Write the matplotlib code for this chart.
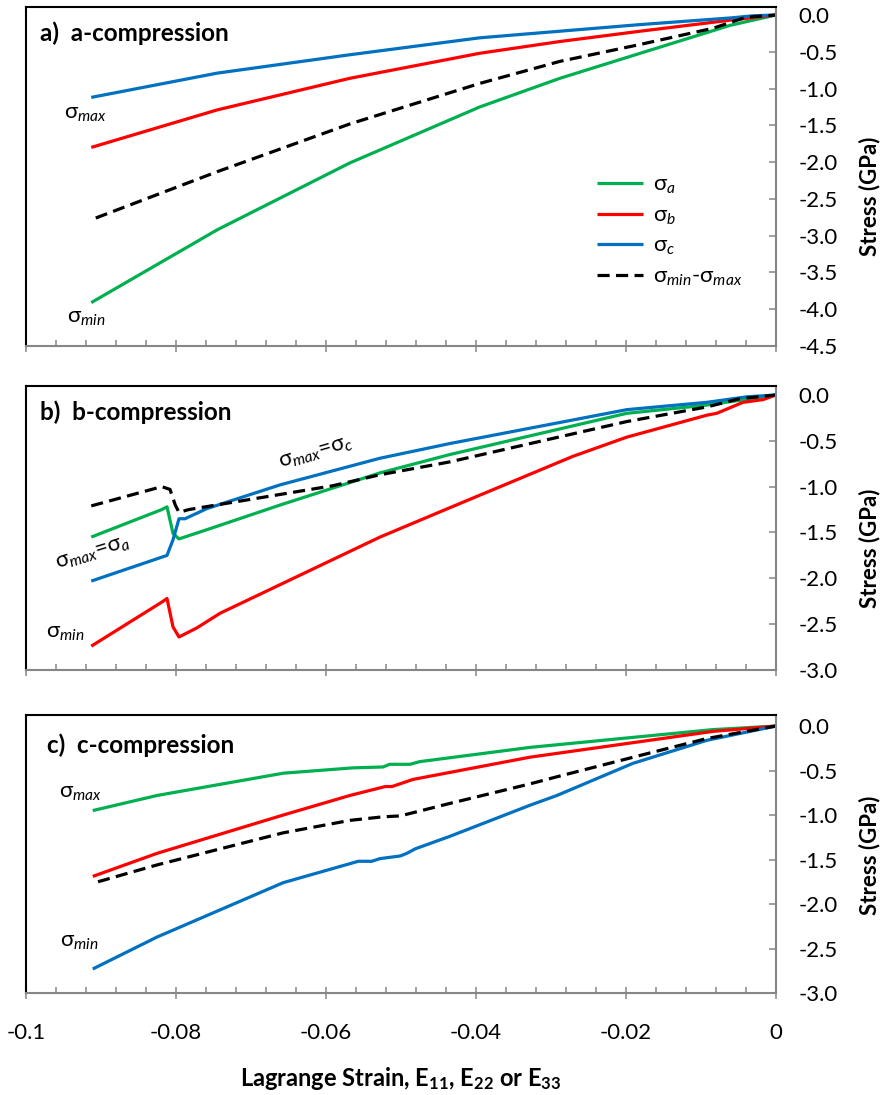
import numpy as np
import matplotlib
matplotlib.use('Agg')
import matplotlib.pyplot as plt
from matplotlib.ticker import MultipleLocator

plt.rcParams['font.family'] = ['Lato', 'DejaVu Sans']
plt.rcParams['mathtext.fontset'] = 'custom'
plt.rcParams['mathtext.rm'] = 'Lato'
plt.rcParams['mathtext.it'] = 'Lato:italic'
plt.rcParams['mathtext.bf'] = 'Lato:bold'
plt.rcParams['mathtext.fallback'] = 'stixsans'
plt.rcParams['axes.unicode_minus'] = False

# ---- a) a-compression ----
a_sa_x = [-0.0913, -0.0745, -0.0568, -0.0395, -0.0288, -0.0181, -0.0061, 0.0]
a_sa_y = [-3.91, -2.92, -2.01, -1.25, -0.86, -0.52, -0.14, 0.0]
a_sb_x = [-0.0913, -0.0745, -0.0568, -0.0395, -0.0288, -0.0181, -0.0061, 0.0]
a_sb_y = [-1.80, -1.29, -0.86, -0.52, -0.36, -0.22, -0.07, 0.0]
a_sc_x = [-0.0913, -0.0745, -0.0653, -0.0568, -0.0395, -0.0288, -0.0181, -0.0061, -0.0030, 0.0]
a_sc_y = [-1.12, -0.79, -0.66, -0.54, -0.31, -0.22, -0.13, -0.04, -0.01, 0.0]
a_dd_x = [-0.0907, -0.0745, -0.0568, -0.0395, -0.0288, -0.0181, -0.0084, -0.0040, 0.0]
a_dd_y = [-2.76, -2.13, -1.48, -0.93, -0.63, -0.40, -0.18, -0.03, 0.0]

# ---- b) b-compression ----
b_sa_x = [-0.0913, -0.0819, -0.0812, -0.0804, -0.0796, -0.0759, -0.0661, -0.0528, -0.0435, -0.0199, -0.0092, 0.0]
b_sa_y = [-1.55, -1.25, -1.22, -1.51, -1.57, -1.47, -1.20, -0.85, -0.65, -0.20, -0.11, 0.0]
b_sb_x = [-0.0913, -0.0819, -0.0812, -0.0804, -0.0796, -0.0772, -0.0741, -0.0528, -0.0435, -0.0271,
          -0.0199, -0.0092, -0.0079, -0.0044, -0.0017, 0.0]
b_sb_y = [-2.74, -2.26, -2.22, -2.53, -2.64, -2.54, -2.38, -1.55, -1.23, -0.67,
          -0.46, -0.22, -0.20, -0.08, -0.05, 0.0]
b_sc_x = [-0.0913, -0.0812, -0.0804, -0.0796, -0.0788, -0.0759, -0.0661, -0.0528, -0.0435, -0.0199,
          -0.0092, -0.0039, 0.0]
b_sc_y = [-2.03, -1.75, -1.58, -1.35, -1.35, -1.24, -0.98, -0.69, -0.53, -0.16,
          -0.08, -0.02, 0.0]
b_dd_x = [-0.0913, -0.0819, -0.0808, -0.0801, -0.0796, -0.0783, -0.0591, -0.0528, -0.0435, -0.0199,
          -0.0092, -0.0048, 0.0]
b_dd_y = [-1.21, -1.00, -1.03, -1.20, -1.28, -1.25, -0.99, -0.87, -0.73, -0.29,
          -0.13, -0.04, 0.0]

# ---- c) c-compression ----
c_sa_x = [-0.0911, -0.0825, -0.0657, -0.0564, -0.0524, -0.0515, -0.0488, -0.0475, -0.0328, -0.0084, 0.0]
c_sa_y = [-0.95, -0.78, -0.53, -0.47, -0.46, -0.43, -0.43, -0.40, -0.24, -0.04, 0.0]
c_sb_x = [-0.0911, -0.0825, -0.0657, -0.0568, -0.0521, -0.0512, -0.0484, -0.0328, -0.0084, 0.0]
c_sb_y = [-1.69, -1.43, -1.00, -0.78, -0.68, -0.68, -0.60, -0.35, -0.06, 0.0]
c_sc_x = [-0.0911, -0.0825, -0.0657, -0.0557, -0.0539, -0.0528, -0.0501, -0.0492, -0.0481, -0.0435,
          -0.0328, -0.0292, -0.0191, -0.0092, 0.0]
c_sc_y = [-2.73, -2.37, -1.76, -1.52, -1.52, -1.49, -1.46, -1.43, -1.38, -1.24,
          -0.89, -0.78, -0.42, -0.16, 0.0]
c_dd_x = [-0.0904, -0.0825, -0.0657, -0.0568, -0.0524, -0.0501, -0.0435, -0.0328, -0.0292, -0.0181,
          -0.0092, 0.0]
c_dd_y = [-1.75, -1.56, -1.20, -1.06, -1.02, -1.01, -0.87, -0.65, -0.57, -0.33,
          -0.14, 0.0]

x_ticks = [-0.1, -0.08, -0.06, -0.04, -0.02, 0.0]
x_ticklabels = ['-0.1', '-0.08', '-0.06', '-0.04', '-0.02', '0']

GREEN = '#00B050'
RED = '#FF0000'
BLUE = '#0070C0'
GRAY = '#868686'
LW = 2.3
FS = 16

fig = plt.figure(figsize=(8.84, 10.95), dpi=100)
W, H = 884.0, 1095.0


def make_ax(top_px, bot_px, ymin, ymax_pad):
    ax = fig.add_axes([26 / W, 1 - bot_px / H, 750 / W, (bot_px - top_px) / H])
    ax.set_xlim(-0.1, 0.0)
    ax.set_ylim(ymin, ymax_pad)
    for s in ['top', 'left']:
        ax.spines[s].set_color('black')
        ax.spines[s].set_linewidth(1.5)
    for s in ['right', 'bottom']:
        ax.spines[s].set_color(GRAY)
        ax.spines[s].set_linewidth(1.5)
    ax.yaxis.tick_right()
    yt = np.round(np.arange(ymin, 0.01, 0.5), 1)
    ax.set_yticks(yt)
    ax.set_yticklabels(['%.1f' % abs(v) if v == 0 else '%.1f' % v for v in yt])
    ax.tick_params(axis='y', which='major', direction='in', length=5, width=1.1,
                   color=GRAY, labelsize=FS, pad=16, left=False, right=True)
    ax.set_xticks(x_ticks)
    ax.set_xticklabels(x_ticklabels)
    ax.xaxis.set_minor_locator(MultipleLocator(0.004))
    ax.tick_params(axis='x', which='major', direction='inout', length=9, width=1.1,
                   color=GRAY, labelsize=FS, pad=17, top=False)
    ax.tick_params(axis='x', which='minor', direction='in', length=4.5, width=1.1,
                   color=GRAY, top=False)
    return ax


def draw(ax, sa, sb, sc, dd):
    ax.plot(sa[0], sa[1], color=GREEN, lw=LW, label='σ$_{a}$', solid_capstyle='butt')
    ax.plot(sb[0], sb[1], color=RED, lw=LW, label='σ$_{b}$', solid_capstyle='butt')
    ax.plot(sc[0], sc[1], color=BLUE, lw=LW, label='σ$_{c}$', solid_capstyle='butt')
    ax.plot(dd[0], dd[1], color='black', lw=LW, ls=(0, (3.8, 2)), label='σ$_{min}$-σ$_{max}$',
            dash_capstyle='butt')


ax1 = make_ax(7, 346, -4.5, 0.109)
draw(ax1, (a_sa_x, a_sa_y), (a_sb_x, a_sb_y), (a_sc_x, a_sc_y), (a_dd_x, a_dd_y))
ax1.tick_params(axis='x', labelbottom=False)
ax1.text(0.019, 0.923, 'a)  a-compression', transform=ax1.transAxes, fontsize=17.5,
         fontweight='bold', va='center', ha='left')
ax1.text(-0.0921, -1.35, 'σ$_{max}$', fontsize=FS, ha='center', va='center')
ax1.text(-0.0919, -4.12, 'σ$_{min}$', fontsize=FS, ha='center', va='center')
ax1.legend(loc='upper left', bbox_to_anchor=(0.761, 0.505), frameon=False, fontsize=FS,
           handlelength=2.1, handletextpad=0.45, labelspacing=0.42, borderpad=0, borderaxespad=0)

ax2 = make_ax(386, 670, -3.0, 0.098)
draw(ax2, (b_sa_x, b_sa_y), (b_sb_x, b_sb_y), (b_sc_x, b_sc_y), (b_dd_x, b_dd_y))
ax2.tick_params(axis='x', labelbottom=False)
ax2.text(0.019, 0.908, 'b)  b-compression', transform=ax2.transAxes, fontsize=17.5,
         fontweight='bold', va='center', ha='left')
ax2.text(-0.0613, -0.63, 'σ$_{max}$=σ$_{c}$', fontsize=FS, ha='center', va='center',
         rotation=16, rotation_mode='anchor')
ax2.text(-0.0911, -1.72, 'σ$_{max}$=σ$_{a}$', fontsize=FS, ha='center', va='center',
         rotation=17, rotation_mode='anchor')
ax2.text(-0.0948, -2.60, 'σ$_{min}$', fontsize=FS, ha='center', va='center')

ax3 = make_ax(715, 993, -3.0, 0.124)
draw(ax3, (c_sa_x, c_sa_y), (c_sb_x, c_sb_y), (c_sc_x, c_sc_y), (c_dd_x, c_dd_y))
ax3.text(0.028, 0.892, 'c)  c-compression', transform=ax3.transAxes, fontsize=17.5,
         fontweight='bold', va='center', ha='left')
ax3.text(-0.0928, -0.75, 'σ$_{max}$', fontsize=FS, ha='center', va='center')
ax3.text(-0.0929, -2.43, 'σ$_{min}$', fontsize=FS, ha='center', va='center')

for yc in [196, 548, 855]:
    fig.text(870 / W, 1 - yc / H, 'Stress (GPa)', rotation=90, fontsize=16,
             fontweight='bold', ha='center', va='center')
fig.text(401 / W, 1 - 1078 / H, r'Lagrange Strain, E$_{\mathbf{11}}$, E$_{\mathbf{22}}$ or E$_{\mathbf{33}}$',
         fontsize=17, fontweight='bold', ha='center', va='center')

fig.savefig('out.png', dpi=100)
